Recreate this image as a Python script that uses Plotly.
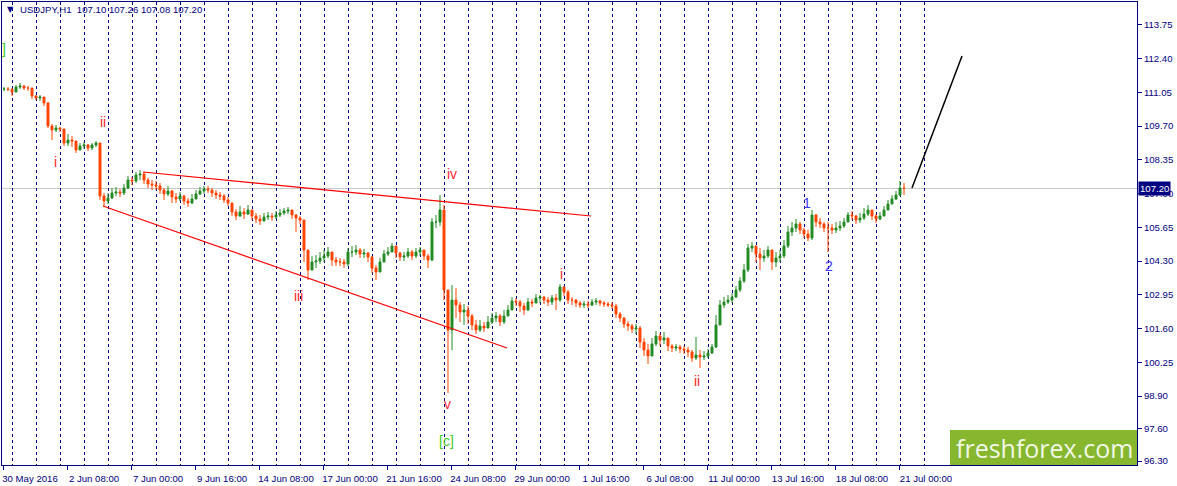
import plotly.graph_objects as go

# ---------------- data (USDJPY, 4-hour aggregates of the H1 chart) ----------------
symbol_title = "USDJPY,H1\u00a0\u00a0107.10 107.26 107.08 107.20"
first_open = 111.18

close = [
    111.18, 111.16, 111.06, 111.26, 111.30, 111.22, 111.22, 110.90, 110.82, 110.86,
    110.62, 109.70, 109.54, 109.62, 109.58, 109.02, 109.14, 109.10, 108.74, 108.90,
    108.94, 108.82, 108.94, 109.02, 106.90, 106.70, 106.82, 107.02, 107.06, 107.02,
    107.22, 107.54, 107.50, 107.74, 107.78, 107.54, 107.38, 107.34, 107.30, 107.14,
    106.98, 107.10, 106.86, 106.78, 106.90, 106.70, 106.62, 106.78, 106.98, 107.10,
    107.18, 107.14, 107.02, 106.94, 106.90, 106.74, 106.62, 106.26, 106.10, 106.26,
    106.18, 106.34, 106.10, 105.98, 105.90, 106.06, 106.10, 106.06, 106.14, 106.22,
    106.30, 106.34, 106.14, 106.02, 105.94, 104.74, 103.94, 104.26, 104.30, 104.42,
    104.50, 104.66, 104.34, 104.26, 104.26, 104.18, 104.66, 104.66, 104.74, 104.58,
    104.62, 104.46, 104.02, 103.86, 104.26, 104.58, 104.66, 104.90, 104.62, 104.46,
    104.50, 104.66, 104.50, 104.66, 104.74, 104.50, 104.34, 105.86, 105.86, 106.34,
    103.14, 101.54, 102.74, 102.54, 102.26, 102.34, 102.10, 101.74, 101.54, 101.70,
    101.62, 101.86, 102.02, 102.10, 101.86, 102.10, 102.34, 102.70, 102.66, 102.50,
    102.34, 102.66, 102.62, 102.82, 102.86, 102.74, 102.66, 102.82, 102.74, 103.26,
    103.06, 102.74, 102.74, 102.62, 102.54, 102.58, 102.54, 102.66, 102.70, 102.62,
    102.58, 102.54, 102.50, 102.18, 102.02, 101.78, 101.70, 101.58, 101.62, 101.06,
    100.74, 100.50, 100.98, 101.30, 101.14, 101.22, 100.90, 100.82, 100.86, 100.78,
    100.74, 100.66, 100.42, 100.54, 100.46, 100.50, 100.62, 100.86, 101.74, 102.54,
    102.66, 102.74, 102.86, 103.14, 103.50, 103.94, 104.82, 104.90, 104.58, 104.42,
    104.50, 104.74, 104.26, 104.42, 104.50, 104.90, 105.46, 105.62, 105.78, 105.54,
    105.38, 105.22, 106.14, 105.86, 105.78, 105.62, 105.62, 105.54, 105.62, 105.70,
    105.86, 106.14, 106.10, 105.94, 106.02, 106.18, 106.34, 106.10, 105.98, 106.10,
    106.34, 106.58, 106.78, 106.94, 107.22, 107.20,
]

high = [
    111.26, 111.26, 111.22, 111.34, 111.42, 111.34, 111.30, 111.22, 110.94, 110.94,
    110.86, 110.66, 109.78, 109.74, 109.66, 109.54, 109.38, 109.30, 109.06, 109.02,
    109.06, 108.98, 109.02, 109.10, 109.02, 107.02, 107.02, 107.22, 107.26, 107.18,
    107.38, 107.70, 107.66, 107.86, 107.94, 107.86, 107.62, 107.54, 107.50, 107.42,
    107.22, 107.30, 107.14, 107.02, 107.06, 106.94, 106.82, 106.98, 107.14, 107.26,
    107.30, 107.30, 107.22, 107.14, 107.06, 106.98, 106.86, 106.62, 106.38, 106.50,
    106.42, 106.54, 106.34, 106.22, 106.14, 106.22, 106.26, 106.22, 106.30, 106.38,
    106.42, 106.46, 106.34, 106.18, 106.10, 105.94, 104.74, 104.50, 104.54, 104.66,
    104.74, 104.86, 104.66, 104.46, 104.42, 104.38, 104.82, 104.90, 104.94, 104.82,
    104.78, 104.66, 104.50, 104.14, 104.42, 104.74, 104.86, 105.02, 104.90, 104.66,
    104.66, 104.82, 104.74, 104.82, 104.86, 104.74, 104.58, 106.02, 106.14, 106.94,
    106.54, 103.14, 103.34, 103.22, 102.66, 102.58, 102.50, 102.18, 101.94, 101.94,
    101.86, 102.10, 102.22, 102.26, 102.18, 102.34, 102.54, 102.86, 102.82, 102.74,
    102.62, 102.82, 102.78, 102.98, 102.94, 102.90, 102.86, 102.94, 102.98, 103.38,
    103.30, 103.14, 102.86, 102.78, 102.70, 102.70, 102.70, 102.78, 102.82, 102.74,
    102.70, 102.66, 102.66, 102.58, 102.26, 102.06, 101.90, 101.78, 101.78, 101.70,
    101.22, 100.98, 101.22, 101.50, 101.42, 101.46, 101.22, 100.98, 100.98, 100.94,
    100.90, 100.86, 100.74, 101.26, 100.74, 100.70, 100.78, 100.98, 102.14, 102.74,
    102.86, 102.94, 103.02, 103.30, 103.66, 104.18, 104.98, 105.06, 104.90, 104.82,
    104.74, 104.90, 104.74, 104.66, 104.74, 105.14, 105.70, 105.86, 105.98, 105.86,
    105.62, 105.54, 106.34, 106.18, 106.02, 105.86, 105.86, 105.78, 105.86, 105.90,
    106.02, 106.26, 106.30, 106.14, 106.22, 106.42, 106.54, 106.34, 106.18, 106.26,
    106.50, 106.74, 106.94, 107.10, 107.50, 107.42,
]

low = [
    111.10, 111.10, 110.90, 111.06, 111.18, 111.14, 111.10, 110.78, 110.74, 110.70,
    110.50, 109.62, 109.14, 109.46, 109.46, 108.90, 108.90, 108.86, 108.62, 108.74,
    108.78, 108.70, 108.74, 108.86, 106.74, 106.46, 106.58, 106.78, 106.90, 106.86,
    106.94, 107.18, 107.34, 107.42, 107.54, 107.38, 107.22, 107.14, 107.14, 106.98,
    106.74, 106.90, 106.62, 106.62, 106.70, 106.54, 106.46, 106.58, 106.82, 106.94,
    106.98, 107.02, 106.86, 106.78, 106.74, 106.62, 106.50, 106.10, 105.94, 106.06,
    105.98, 106.14, 105.94, 105.82, 105.74, 105.90, 105.94, 105.90, 105.98, 106.06,
    106.14, 106.18, 105.98, 105.46, 105.78, 104.26, 103.54, 103.94, 104.02, 104.18,
    104.26, 104.42, 104.10, 104.10, 104.10, 104.02, 104.10, 104.46, 104.54, 104.42,
    104.42, 104.26, 103.82, 103.54, 103.86, 104.26, 104.50, 104.66, 104.42, 104.30,
    104.30, 104.42, 104.34, 104.42, 104.50, 104.34, 104.02, 104.30, 105.62, 105.70,
    102.74, 99.02, 100.74, 102.02, 101.86, 101.74, 101.78, 101.54, 101.38, 101.46,
    101.46, 101.66, 101.78, 101.86, 101.70, 101.78, 102.10, 102.34, 102.50, 102.26,
    102.14, 102.30, 102.46, 102.66, 102.62, 102.58, 102.50, 102.54, 102.34, 102.66,
    102.90, 102.58, 102.54, 102.46, 102.42, 102.42, 102.42, 102.50, 102.54, 102.50,
    102.46, 102.46, 102.38, 102.02, 101.86, 101.62, 101.50, 101.42, 101.38, 100.82,
    100.50, 100.18, 100.66, 100.90, 100.90, 100.98, 100.70, 100.66, 100.70, 100.62,
    100.58, 100.46, 100.26, 100.34, 100.02, 100.34, 100.42, 100.58, 100.82, 102.02,
    102.42, 102.58, 102.62, 102.82, 103.06, 103.42, 103.86, 104.66, 104.26, 103.94,
    104.26, 104.42, 103.94, 104.06, 104.26, 104.42, 104.82, 105.30, 105.46, 105.38,
    105.22, 105.10, 105.14, 105.66, 105.62, 105.46, 104.66, 105.38, 105.42, 105.50,
    105.62, 105.94, 105.94, 105.78, 105.82, 105.94, 106.10, 105.94, 105.82, 105.94,
    106.10, 106.34, 106.58, 106.74, 106.90, 106.94,
]

# time axis (trading-hour index), labels as printed by the terminal
date_tick_hours = [1, 65, 129, 193, 257, 321, 385, 449, 513, 577, 641, 705, 769, 833, 897]
date_tick_labels = ["30 May 2016", "2 Jun 08:00", "7 Jun 00:00", "9 Jun 16:00", "14 Jun 08:00",
                    "17 Jun 00:00", "21 Jun 16:00", "24 Jun 08:00", "29 Jun 00:00", "1 Jul 16:00",
                    "6 Jul 08:00", "11 Jul 00:00", "13 Jul 16:00", "18 Jul 08:00", "21 Jul 00:00"]
price_ticks = [96.30, 97.60, 98.90, 100.25, 101.60, 102.95, 104.30, 105.65,
               107.00, 108.35, 109.70, 111.05, 112.40, 113.75]

# drawn objects (trend lines and forecast)
upper_line_hours = [141, 589]
upper_line_prices = [107.86, 106.10]
lower_line_hours = [101, 505]
lower_line_prices = [106.50, 100.82]
forecast_hours = [910, 960]
forecast_prices = [107.22, 112.50]

# wave labels: (text, hour, price, colour)
wave_labels = [
    ("i", 53, 108.26, "#ff1f1f"), ("ii", 101, 109.86, "#ff1f1f"), ("iii", 296, 102.90, "#ff1f1f"),
    ("iv", 450, 107.78, "#ff1f3a"), ("v", 445, 98.58, "#ff1f3a"), ("i", 559, 103.78, "#ff1f1f"),
    ("ii", 695, 99.50, "#ff1f1f"), ("[c]", 444, 97.10, "#3fcc1f"), ("1", 805, 106.62, "#3a3aff"),
    ("2", 827, 104.10, "#3a3aff"), ("]", 2, 112.80, "#3fcc1f"),
]

# ---------------- figure ----------------
NAVY = "#000080"
W, H = 1177, 486
ML, MR, MT, MB = 2, 40, 2, 21
PW, PH = W - ML - MR, H - MT - MB

hours = [2 + 4 * i for i in range(len(close))]
opens = [first_open] + close[:-1]
grid_hours = list(range(10, 923, 24))

fig = go.Figure()
fig.add_trace(go.Candlestick(
    x=hours, open=opens, high=high, low=low, close=close,
    increasing=dict(line=dict(color="#228b22", width=1), fillcolor="#228b22"),
    decreasing=dict(line=dict(color="#ff4500", width=1), fillcolor="#ff4500"),
    whiskerwidth=0, hoverinfo="skip", showlegend=False,
))
for xs, ys, col, w in [(upper_line_hours, upper_line_prices, "#ff0000", 1.2),
                       (lower_line_hours, lower_line_prices, "#ff0000", 1.2),
                       (forecast_hours, forecast_prices, "#000000", 1.5)]:
    fig.add_trace(go.Scatter(x=xs, y=ys, mode="lines", line=dict(color=col, width=w),
                             hoverinfo="skip", showlegend=False))

# current price line
fig.add_shape(type="line", xref="paper", x0=0, x1=1, yref="y", y0=close[-1], y1=close[-1],
              line=dict(color="#c8c8c8", width=1), layer="below")
# watermark box
fig.add_shape(type="rect", xref="paper", yref="paper", x0=(950 - ML) / PW, x1=1,
              y0=0, y1=35 / PH, fillcolor="#86b72f", line=dict(width=0), layer="above")
fig.add_annotation(xref="paper", yref="paper", x=(1044 - ML) / PW, y=17.5 / PH,
                   xanchor="center", yanchor="middle",
                   text="freshforex.com", showarrow=False,
                   font=dict(family="Open Sans", size=25, color="#f2f7e6"))

for txt, hx, py, col in wave_labels:
    fig.add_annotation(x=hx, y=py, text=txt, showarrow=False, xanchor="center", yanchor="middle",
                       font=dict(family="Liberation Sans", size=14, color=col))

# title line
fig.add_annotation(xref="paper", yref="paper", x=8 / PW, y=1 - 8 / PH,
                   text="\u25bc", showarrow=False, xanchor="center", yanchor="middle",
                   font=dict(family="DejaVu Sans", size=8, color=NAVY))
fig.add_annotation(xref="paper", yref="paper", x=16 / PW, y=1 - 8 / PH,
                   text=symbol_title, showarrow=False, xanchor="left", yanchor="middle",
                   font=dict(family="Liberation Sans", size=9.6, color=NAVY))
# current price tag
fig.add_annotation(xref="paper", yref="y", x=1, y=close[-1], xanchor="left", yanchor="middle",
                   xshift=1, text="%.2f" % close[-1], showarrow=False, bgcolor=NAVY, borderpad=1,
                   font=dict(family="Liberation Sans", size=9.6, color="#ffffff"))

fig.update_layout(
    width=W, height=H, margin=dict(l=ML, r=MR, t=MT, b=MB, autoexpand=False),
    paper_bgcolor="white", plot_bgcolor="white", hovermode=False,
    boxgap=0.3, showlegend=False,
    font=dict(family="Liberation Sans", size=9.6, color=NAVY),
)
fig.update_xaxes(
    range=[0, PW], showgrid=False, zeroline=False, rangeslider_visible=False,
    tickmode="array", tickvals=date_tick_hours, ticktext=date_tick_labels,
    ticks="outside", ticklen=4, tickcolor=NAVY, ticklabelshift=27,
    tickfont=dict(family="Liberation Sans", size=9.6, color=NAVY),
    showline=True, linecolor=NAVY, linewidth=1, mirror=True,
    minor=dict(tickmode="array", tickvals=grid_hours, showgrid=True, gridcolor=NAVY,
               gridwidth=1, griddash="3px,3px", ticks=""),
)
fig.update_yaxes(
    side="right", range=[96.14, 114.66], showgrid=False, zeroline=False,
    tickmode="array", tickvals=price_ticks, ticktext=["%.2f" % v for v in price_ticks],
    ticks="outside", ticklen=4, tickcolor=NAVY,
    tickfont=dict(family="Liberation Sans", size=9.6, color=NAVY),
    showline=True, linecolor=NAVY, linewidth=1, mirror=True,
)

fig.write_html("out.html", config={"displayModeBar": False},
               post_script="document.body.style.margin='0';document.body.style.overflow='hidden';")
